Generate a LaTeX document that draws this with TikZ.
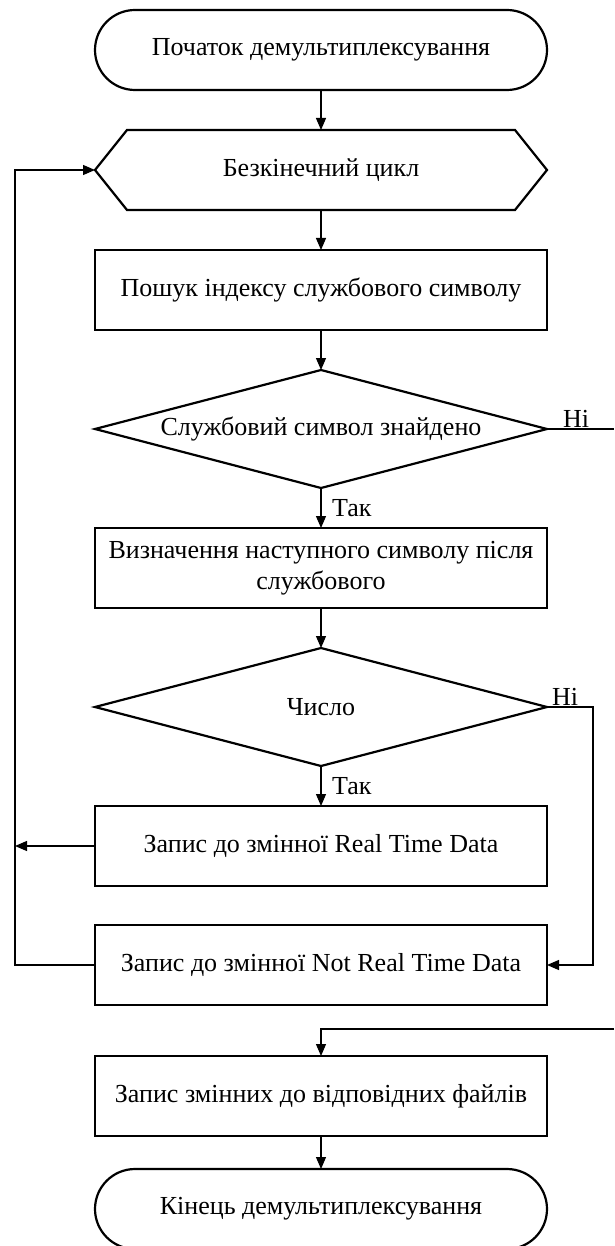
\documentclass[tikz,border=0pt]{standalone}
\usepackage{fontspec}
\setmainfont{Liberation Serif}
\usetikzlibrary{arrows.meta,positioning,shapes.geometric}

\begin{document}
\begin{tikzpicture}
[->,>={Triangle[length=12pt,width=10pt]}, x=1pt, y=-1pt, node distance=40pt,
line width=1.2pt,
every node/.style={font=\fontsize{26}{31}\selectfont, outer sep=0pt},
process/.style={draw, -, line width=2.2pt, minimum width=452pt, minimum height=80pt, align=center},
terminal/.style={process, rounded corners=40pt},
decision/.style={draw, -, diamond, line width=2.2pt, minimum width=452pt, minimum height=118pt, aspect=3.8, inner sep=0pt},
answer/.style={right, inner sep=2pt}
]
  \useasboundingbox (0,0) rectangle (614,1246);

  \node[terminal] (start) at (321,50) {Початок демультиплексування};
  \node[process, draw=none] (hex) [below=of start] {Безкінечний цикл};
  \draw[-, line width=2.2pt] (hex.west) -- ([xshift=32pt]hex.north west) -- ([xshift=-32pt]hex.north east)
    -- (hex.east) -- ([xshift=-32pt]hex.south east) -- ([xshift=32pt]hex.south west) -- cycle;
  \node[process]  (search) [below=of hex] {Пошук індексу службового символу};
  \node[decision] (found)  [below=of search] {Службовий символ знайдено};
  \node[process]  (next)   [below=of found] {Визначення наступного символу після\\ службового};
  \node[decision] (number) [below=of next] {Число};
  \node[process]  (rtd)    [below=of number] {Запис до змінної Real Time Data};
  \node[process]  (nrtd)   [below=39pt of rtd] {Запис до змінної Not Real Time Data};
  \node[process]  (files)  [below=51pt of nrtd] {Запис змінних до відповідних файлів};
  \node[terminal] (stop)   [below=33pt of files] {Кінець демультиплексування};

  \coordinate (exit) at (614,429);
  \coordinate (back) at (614,1029);

  \draw (start) -- (hex);
  \draw (hex) -- (search);
  \draw (search) -- (found);
  \draw (found) -- node[answer, xshift=9pt] {Так} (next);
  \draw[-] (found.east) -- node[anchor=south west, pos=0, xshift=14pt, inner sep=2pt] {Ні} (exit);
  \draw (next) -- (number);
  \draw (number) -- node[answer, xshift=9pt] {Так} (rtd);
  \draw (number.east) -- node[anchor=south west, pos=0, xshift=3pt, inner sep=2pt] {Ні} ++(46,0) |- (nrtd.east);
  \draw (rtd.west) -- ++(-80,0);
  \draw (nrtd.west) -- ++(-80,0) |- (hex.west);
  \draw (back) -| (files.north);
  \draw (files) -- (stop);
\end{tikzpicture}
\end{document}
